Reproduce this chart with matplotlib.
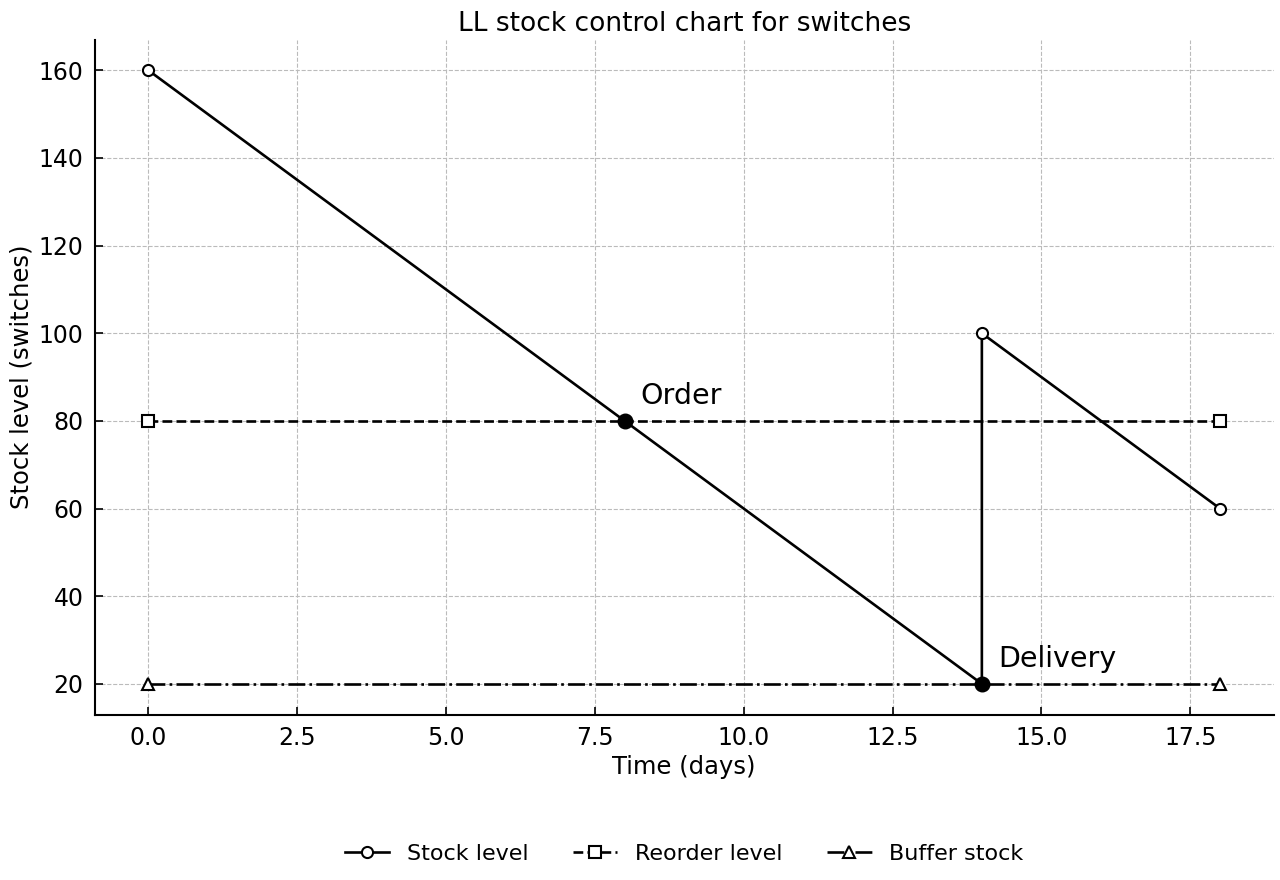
import matplotlib
matplotlib.use("Agg")
import matplotlib.pyplot as plt

# stock level path (days, switches)
stock_days = [0, 14, 14, 18]
stock_level = [160, 20, 100, 60]
stock_marker_idx = [0, 2, 3]

reorder_days = [0, 18]
reorder_level = [80, 80]

buffer_days = [0, 18]
buffer_level = [20, 20]

event_days = [8, 14]
event_level = [80, 20]
event_labels = ["Order", "Delivery"]

fig, ax = plt.subplots(figsize=(12.8, 8.8), dpi=100)

ax.plot(stock_days, stock_level, color='black', linewidth=1.9, marker='o',
        markevery=stock_marker_idx, markersize=8, markerfacecolor='white',
        markeredgewidth=1.5, label="Stock level")
ax.plot(reorder_days, reorder_level, color='black', linewidth=1.9, linestyle='--',
        marker='s', markersize=8, markerfacecolor='white', markeredgewidth=1.5,
        label="Reorder level")
ax.plot(buffer_days, buffer_level, color='black', linewidth=1.9, linestyle='-.',
        marker='^', markersize=8, markerfacecolor='white', markeredgewidth=1.5,
        label="Buffer stock")

ax.scatter(event_days, event_level, s=110, color='black', zorder=5)
for x, y, txt in zip(event_days, event_level, event_labels):
    ax.text(x + 0.27, y + 2.5, txt, fontsize=20.5, ha='left', va='bottom')

ax.set_title("LL stock control chart for switches", fontsize=19)
ax.set_xlabel("Time (days)", fontsize=17.5)
ax.set_ylabel("Stock level (switches)", fontsize=17.5)
ax.grid(True, linestyle='--', color='#bbbbbb', linewidth=0.8)
ax.set_axisbelow(True)
ax.tick_params(direction='in', length=6, width=1.2, labelsize=17, pad=8)
ax.spines['top'].set_visible(False)
ax.spines['right'].set_visible(False)
ax.spines['left'].set_linewidth(1.5)
ax.spines['bottom'].set_linewidth(1.5)

ax.legend(loc='upper center', bbox_to_anchor=(0.5, -0.162), ncol=3,
          frameon=False, fontsize=16, columnspacing=2.0)

fig.subplots_adjust(left=0.074, right=0.995, top=0.955, bottom=0.188)
fig.savefig("out.png", dpi=100)
